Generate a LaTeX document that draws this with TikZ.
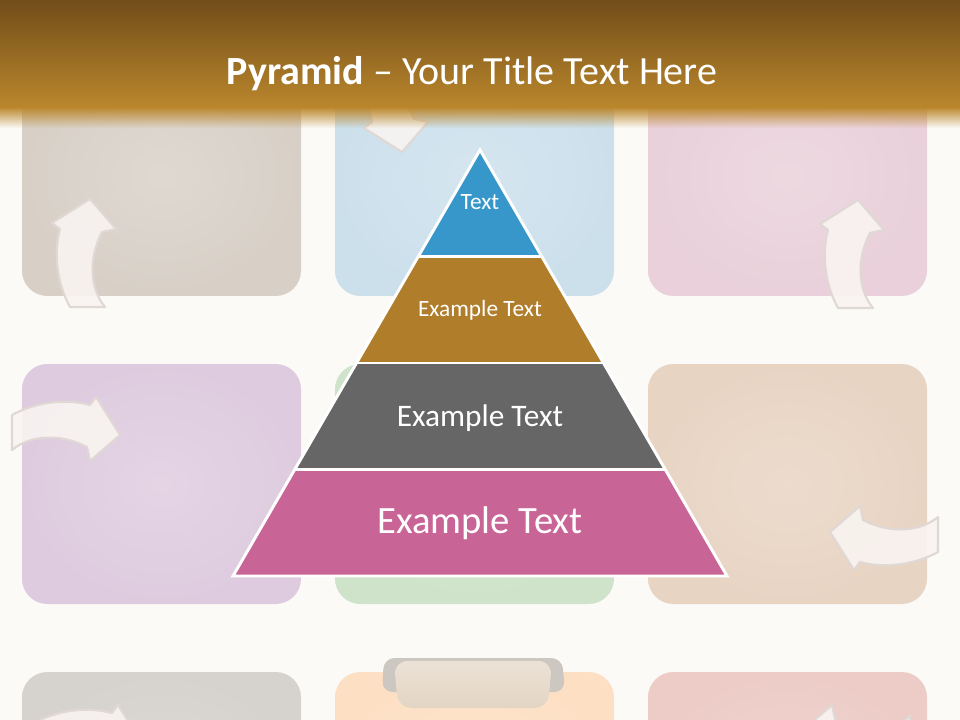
\documentclass[tikz,border=0pt]{standalone}
\usepackage{fontspec}
\setmainfont{Carlito}
\usetikzlibrary{calc,fadings}
\definecolor{slidebg}{HTML}{FBFAF7}
\definecolor{bannertop}{HTML}{714D1A}
\definecolor{bannerlow}{HTML}{BB872C}
\definecolor{tilebeige}{HTML}{D8D0C7}
\definecolor{tileblue}{HTML}{CCE0EC}
\definecolor{tilepink}{HTML}{E9D0DA}
\definecolor{tilelilac}{HTML}{DECBDF}
\definecolor{tilegreen}{HTML}{CEE3C9}
\definecolor{tilepeach}{HTML}{E8D4C3}
\definecolor{tilegrey}{HTML}{D6D3CE}
\definecolor{tileorange}{HTML}{FDE0C4}
\definecolor{tilerose}{HTML}{EDCCC7}
\definecolor{tierblue}{HTML}{3797CB}
\definecolor{tierbrown}{HTML}{B07D2B}
\definecolor{tiergrey}{HTML}{666666}
\definecolor{tierpink}{HTML}{C96497}
\definecolor{arrowfill}{HTML}{F9F4F1}
\definecolor{arrowedge}{HTML}{E0D8D4}
\definecolor{tabback}{HTML}{CCC7C1}
\definecolor{tabfront}{HTML}{E3D5C4}

\tikzset{
  tile/.style={rounded corners=19pt, inner color=#1!82!white, outer color=#1},
  deco arrow/.style={fill=arrowfill, fill opacity=0.9, draw=arrowedge, line width=1.6pt, line join=round},
  curved arrow/.pic={
    \path[deco arrow] (0,0) -- (-24,-38) -- (-30,-30) .. controls (-60,-38) and (-90,-30) .. (-108,-20)
      -- (-108,15) .. controls (-90,0) and (-60,-2) .. (-33,12) -- (-30,26) -- cycle;
  },
  tier edge/.style={draw=white, line width=2.2pt, line join=miter},
  tier label/.style={text=white, inner sep=0pt, anchor=base},
  title text/.style={text=white, inner sep=0pt, anchor=base, font=\fontsize{30}{36}\selectfont}
}

\begin{document}
\begin{tikzpicture}[x=0.75pt, y=-0.75pt]
\useasboundingbox (0,0) rectangle (960,720);
\clip (0,0) rectangle (960,720);
\fill[slidebg] (0,0) rectangle (960,720);

% background tiles
\foreach \c/\i/\j in {tilebeige/0/0, tileblue/1/0, tilepink/2/0,
                      tilelilac/0/1, tilegreen/1/1, tilepeach/2/1,
                      tilegrey/0/2, tileorange/1/2, tilerose/2/2}
  \shade[tile=\c] ({22+313*\i},{56+308*\j}) rectangle ++(279,240);

% decorative arrows
\pic[rotate=90] at (90,199) {curved arrow};
\pic[rotate=90] at (858,200) {curved arrow};
\pic[xscale=-1, rotate=-90] at (402,152) {curved arrow};
\pic at (120,435) {curved arrow};
\pic[rotate=180] at (830,532) {curved arrow};
\pic at (142,743) {curved arrow};
\pic[rotate=180] at (802,731) {curved arrow};

% clip tab
\fill[tabback, rounded corners=8pt] (382,692) -- (384,658) -- (562,658) -- (565,692) -- cycle;
\shade[top color=tabfront!70!white, bottom color=tabfront, rounded corners=10pt]
  (394,661) -- (398,708) -- (548,708) -- (552,661) -- cycle;

% title banner
\shade[top color=bannertop, bottom color=bannerlow] (0,0) rectangle (960,108);
\fill[bannerlow, path fading=south] (0,107) rectangle (960,128);
\node[title text] (title) at (472,85) {\textbf{Pyramid} – Your Title Text Here};

% pyramid
\coordinate (apex) at (480,150);
\coordinate (baseL) at (233,576);
\coordinate (baseR) at (727,576);
\foreach \c [count=\i from 0, evaluate=\i as \ta using \i/4, evaluate=\i as \tb using (\i+1)/4]
    in {tierblue,tierbrown,tiergrey,tierpink}
  \fill[\c] ($(apex)!\ta!(baseL)$) -- ($(apex)!\tb!(baseL)$) -- ($(apex)!\tb!(baseR)$) -- ($(apex)!\ta!(baseR)$) -- cycle;
\draw[tier edge] (apex) -- (baseR) -- (baseL) -- cycle;
\foreach \t in {0.25,0.5,0.75}
  \draw[tier edge] ($(apex)!\t!(baseL)$) -- ($(apex)!\t!(baseR)$);

\node[tier label, font=\fontsize{17.5}{20}\selectfont] (tierA) at (480,210) {Text};
\node[tier label, font=\fontsize{17.5}{20}\selectfont] (tierB) at (480,316) {Example Text};
\node[tier label, font=\fontsize{23.5}{28}\selectfont] (tierC) at (480,426) {Example Text};
\node[tier label, font=\fontsize{29}{34}\selectfont] (tierD) at (480,533) {Example Text};
\end{tikzpicture}
\end{document}
